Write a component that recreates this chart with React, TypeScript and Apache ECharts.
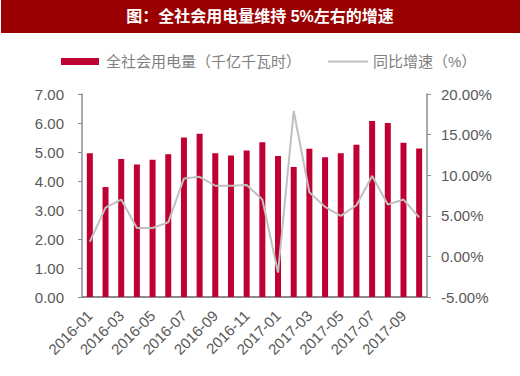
import React, { useEffect, useRef } from "react";
import * as echarts from "echarts";

const categories = [
  "2016-01", "2016-02", "2016-03", "2016-04", "2016-05", "2016-06",
  "2016-07", "2016-08", "2016-09", "2016-10", "2016-11", "2016-12",
  "2017-01", "2017-02", "2017-03", "2017-04", "2017-05", "2017-06",
  "2017-07", "2017-08", "2017-09", "2017-10",
];
const consumption = [
  4.96, 3.79, 4.76, 4.57, 4.73, 4.92, 5.50, 5.63, 4.96, 4.88, 5.05, 5.34,
  4.86, 4.48, 5.11, 4.82, 4.96, 5.25, 6.07, 6.00, 5.32, 5.12,
];
const growth = [
  1.8, 6.0, 7.0, 3.5, 3.5, 4.2, 9.6, 9.8, 8.7, 8.7, 8.8, 7.0,
  -2.0, 17.9, 7.9, 6.1, 5.0, 6.3, 9.9, 6.4, 7.0, 4.8,
];
const titleText = "图：全社会用电量维持 5%左右的增速";
const barName = "全社会用电量（千亿千瓦时）";
const lineName = "同比增速（%）";

const FONT = "'Liberation Sans', 'Noto Sans CJK SC', sans-serif";
const AXIS_COLOR = "#8c8c8c";
const LABEL_COLOR = "#595959";

export default function App() {
  const ref = useRef<HTMLDivElement>(null);
  useEffect(() => {
    if (!ref.current) return;
    const chart = echarts.init(ref.current, null, { renderer: "svg" });
    chart.setOption({
      animation: false,
      backgroundColor: "#ffffff",
      textStyle: { fontFamily: FONT },
      graphic: [
        { type: "rect", left: 1, top: 0, shape: { width: 519, height: 33 }, style: { fill: "#9a0000" } },
        {
          type: "text", left: "center", top: 8,
          style: { text: titleText, fill: "#ffffff", font: `bold 16px ${FONT}` },
        },
      ],
      legend: [
        {
          left: 56, top: 49, itemWidth: 38, itemHeight: 7, itemGap: 0,
          data: [{ name: barName, icon: "rect" }],
          textStyle: { color: "#808080", fontSize: 15, fontFamily: FONT, padding: [0, 0, 0, 2] },
        },
        {
          left: 323, top: 49, itemWidth: 40, itemHeight: 2,
          data: [{ name: lineName, icon: "rect" }],
          textStyle: { color: "#808080", fontSize: 15, fontFamily: FONT },
        },
      ],
      grid: { left: 82, right: 93, top: 94, bottom: 79 },
      xAxis: {
        type: "category",
        data: categories,
        boundaryGap: true,
        axisLine: { lineStyle: { color: AXIS_COLOR, width: 2 } },
        axisTick: { interval: 1, length: 5, lineStyle: { color: AXIS_COLOR, width: 1.5 } },
        axisLabel: { interval: 1, rotate: 45, color: LABEL_COLOR, fontSize: 15, margin: 16 },
      },
      yAxis: [
        {
          type: "value", min: 0, max: 7, interval: 1,
          axisLine: { show: true, lineStyle: { color: AXIS_COLOR, width: 1.5 } },
          axisTick: { show: true, length: 4, lineStyle: { color: AXIS_COLOR } },
          splitLine: { show: false },
          axisLabel: { color: LABEL_COLOR, fontSize: 15, margin: 18, formatter: (v: number) => v.toFixed(2) },
        },
        {
          type: "value", min: -5, max: 20, interval: 5,
          axisLine: { show: true, lineStyle: { color: AXIS_COLOR, width: 1.5 } },
          axisTick: { show: true, length: 4, lineStyle: { color: AXIS_COLOR } },
          splitLine: { show: false },
          axisLabel: { color: LABEL_COLOR, fontSize: 15, margin: 14, formatter: (v: number) => v.toFixed(2) + "%" },
        },
      ],
      series: [
        {
          name: barName, type: "bar", data: consumption, barWidth: 6,
          itemStyle: { color: "#c00032" },
        },
        {
          name: lineName, type: "line", yAxisIndex: 1, data: growth,
          symbol: "none", lineStyle: { color: "#c0c0c0", width: 2 },
          itemStyle: { color: "#c0c0c0" },
        },
      ],
    });
    return () => chart.dispose();
  }, []);
  return (
    <div
      ref={ref}
      style={{ position: "fixed", left: 0, top: 0, width: 520, height: 376 }}
    />
  );
}
